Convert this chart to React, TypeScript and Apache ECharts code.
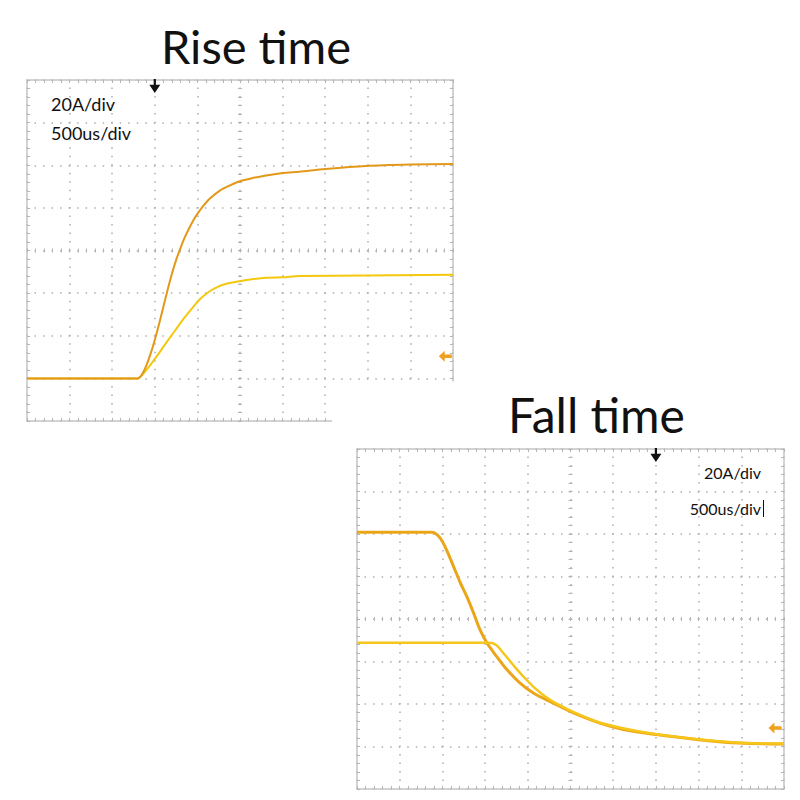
import React, { useEffect, useRef } from "react";
import * as echarts from "echarts";

// ---- scope settings (time in µs relative to trigger, current in A) ----
const X_STEP = 500; // 500us/div
const Y_STEP = 20; // 20A/div
const RISE_X_MIN = -1500;
const RISE_X_MAX = 3500;
const FALL_X_MIN = -3500;
const FALL_X_MAX = 1500;
const Y_MIN = -20;
const Y_MAX = 140;

const titles = ["Rise time", "Fall time"];
const scaleLabels = ["20A/div", "500us/div"];

// ---- Rise time traces ----
const riseOrangeT = [-1500, -200, -170, -140, -100, -50, 0, 50, 100, 150, 200, 250, 300, 350, 400, 450, 500, 560, 650, 760, 880, 990, 1150, 1305, 1500, 1695, 2000, 2475, 3000, 3500];
const riseOrangeI = [0, 0, 0.8, 2.5, 6, 11.5, 18, 25.5, 33.5, 41.5, 49, 55.5, 61, 66, 70.2, 74, 77.2, 80.5, 84.5, 88, 90.5, 92.4, 94, 95.2, 96.4, 97, 98.2, 99.6, 100.3, 100.6];
const riseYellowT = [-1500, -200, -150, -62, 35, 135, 230, 330, 430, 525, 620, 720, 850, 990, 1305, 1500, 1695, 3500];
const riseYellowI = [0, 0, 1.5, 5.8, 11, 16.8, 22, 27.6, 32.5, 37, 40.2, 42.6, 44.5, 45.6, 47.2, 47.4, 48, 48.6];

// ---- Fall time traces ----
const fallOrangeT = [-3500, -2620, -2560, -2500, -2440, -2370, -2290, -2215, -2135, -2060, -1980, -1865, -1745, -1590, -1435, -1200, -965, -655, -380, 5, 500, 980, 1500];
const fallOrangeI = [100.8, 100.8, 99.6, 96.5, 91.5, 84.8, 77, 70.6, 62.8, 55, 48.8, 42.4, 36.2, 29.8, 25.2, 20.4, 15.8, 11, 8, 5.6, 3.2, 1.6, 1.2];
const fallYellowT = [-3500, -1950, -1870, -1800, -1720, -1630, -1530, -1420, -1300, -1200, -965, -655, 5, 980, 1500];
const fallYellowI = [48.8, 48.8, 47.8, 44.6, 40.8, 36.4, 32, 27.6, 23.6, 21, 16.2, 11.2, 5.8, 1.8, 1.4];

// ---- markers (trigger at t=0 on top edge, ground reference arrows) ----
const riseGround = [3410, 10.4];
const fallGround = [1395, 8.7];

const zip = (t: number[], v: number[]) => t.map((x, i) => [x, v[i]]);

const FRAME = "#c4c4c4";
const DOTS = "#adadad";
const TICKS = "#b5b5b5";

const TRIGGER_SYMBOL = "path://M4,0 L6,0 L6,5 L10,5 L5,12 L0,5 L4,5 Z";
const GROUND_SYMBOL = "path://M0,4.5 L5,0 L5,3 L11,3 L11,6 L5,6 L5,9 Z";

type Rect = { left: number; top: number; width: number; height: number };

function makeAxes(gi: number, r: Rect, xmin: number, xmax: number) {
  const xBase = {
    type: "value" as const,
    gridIndex: gi,
    min: xmin,
    max: xmax,
    interval: X_STEP,
    axisLabel: { show: false },
  };
  const yBase = {
    type: "value" as const,
    gridIndex: gi,
    min: Y_MIN,
    max: Y_MAX,
    interval: Y_STEP,
    axisLabel: { show: false },
  };
  const frameLine = { show: true, onZero: false, lineStyle: { color: FRAME, width: 1.5 } };
  const frameTick = { show: true, inside: true, length: 3, lineStyle: { color: TICKS, width: 1 } };
  const frameMinor = { show: true, splitNumber: 5, length: 3, lineStyle: { color: TICKS, width: 1 } };
  const vPeriod = r.height / 40;
  const hPeriod = r.width / 50;
  const xAxes = [
    {
      ...xBase,
      position: "bottom",
      axisLine: frameLine,
      axisTick: frameTick,
      minorTick: frameMinor,
      splitLine: {
        show: true,
        lineStyle: { color: DOTS, width: 1.5, type: [1.5, vPeriod - 1.5], dashOffset: 0.75 },
      },
    },
    {
      ...xBase,
      position: "top",
      axisLine: frameLine,
      axisTick: frameTick,
      minorTick: frameMinor,
      splitLine: { show: false },
    },
    {
      ...xBase,
      position: "bottom",
      offset: -(r.height / 2 + 2),
      axisLine: { show: false, onZero: false },
      axisTick: { show: true, inside: false, length: 4, lineStyle: { color: TICKS, width: 1 } },
      minorTick: { show: true, splitNumber: 5, length: 4, lineStyle: { color: TICKS, width: 1 } },
      splitLine: { show: false },
    },
  ];
  const yAxes = [
    {
      ...yBase,
      position: "left",
      axisLine: frameLine,
      axisTick: frameTick,
      minorTick: frameMinor,
      splitLine: {
        show: true,
        lineStyle: { color: DOTS, width: 1.5, type: [1.5, hPeriod - 1.5], dashOffset: 0.75 },
      },
    },
    {
      ...yBase,
      position: "right",
      axisLine: frameLine,
      axisTick: frameTick,
      minorTick: frameMinor,
      splitLine: { show: false },
    },
    {
      ...yBase,
      position: "left",
      offset: -(r.width / 2 + 2),
      axisLine: { show: false, onZero: false },
      axisTick: { show: true, inside: false, length: 4, lineStyle: { color: TICKS, width: 1 } },
      minorTick: { show: true, splitNumber: 5, length: 4, lineStyle: { color: TICKS, width: 1 } },
      splitLine: { show: false },
    },
  ];
  return { xAxes, yAxes };
}

export default function App() {
  const ref = useRef<HTMLDivElement>(null);

  useEffect(() => {
    if (!ref.current) return;
    const chart = echarts.init(ref.current, null, { renderer: "svg" });

    const riseRect: Rect = { left: 27, top: 80, width: 426, height: 341 };
    const fallRect: Rect = { left: 357, top: 449, width: 427, height: 340 };

    const ra = makeAxes(0, riseRect, RISE_X_MIN, RISE_X_MAX);
    const fa = makeAxes(1, fallRect, FALL_X_MIN, FALL_X_MAX);

    const markers = (ground: number[], groundColor: string) => ({
      silent: true,
      label: { show: false },
      data: [
        {
          coord: [0, Y_MAX],
          symbol: TRIGGER_SYMBOL,
          symbolSize: [11, 14],
          symbolOffset: [0, 6],
          itemStyle: { color: "#111" },
        },
        {
          coord: ground,
          symbol: GROUND_SYMBOL,
          symbolSize: [13, 11],
          itemStyle: { color: groundColor },
        },
      ],
    });

    const option: any = {
      animation: false,
      backgroundColor: "#ffffff",
      grid: [
        { ...riseRect, containLabel: false },
        { ...fallRect, containLabel: false },
      ],
      xAxis: [...ra.xAxes, ...fa.xAxes],
      yAxis: [...ra.yAxes, ...fa.yAxes],
      series: [
        {
          name: "Rise yellow",
          type: "line",
          xAxisIndex: 0,
          yAxisIndex: 0,
          data: zip(riseYellowT, riseYellowI),
          symbol: "none",
          smooth: 0.3,
          lineStyle: { color: "#F4C80E", width: 2 },
          itemStyle: { color: "#F4C80E" },
          z: 3,
        },
        {
          name: "Rise orange",
          type: "line",
          xAxisIndex: 0,
          yAxisIndex: 0,
          data: zip(riseOrangeT, riseOrangeI),
          symbol: "none",
          smooth: 0.3,
          lineStyle: { color: "#E3981A", width: 2 },
          itemStyle: { color: "#E3981A" },
          z: 4,
          markPoint: markers(riseGround, "#F0A020"),
        },
        {
          name: "Fall orange",
          type: "line",
          xAxisIndex: 3,
          yAxisIndex: 3,
          data: zip(fallOrangeT, fallOrangeI),
          symbol: "none",
          smooth: 0.3,
          lineStyle: { color: "#EBA518", width: 3 },
          itemStyle: { color: "#EBA518" },
          z: 3,
          markPoint: markers(fallGround, "#F0A020"),
        },
        {
          name: "Fall yellow",
          type: "line",
          xAxisIndex: 3,
          yAxisIndex: 3,
          data: zip(fallYellowT, fallYellowI),
          symbol: "none",
          smooth: 0.3,
          lineStyle: { color: "#F6C61A", width: 2.5 },
          itemStyle: { color: "#F6C61A" },
          z: 4,
        },
      ],
      graphic: [
        {
          type: "rect",
          shape: { x: 332, y: 381.5, width: 130, height: 45 },
          style: { fill: "#ffffff" },
          z: 100,
        },
        {
          type: "text",
          x: 161,
          y: 46,
          style: { text: titles[0], fontSize: 47, fontFamily: "Lato", fill: "#111", align: "left", verticalAlign: "middle" },
          z: 101,
        },
        {
          type: "text",
          x: 508,
          y: 414,
          style: { text: titles[1], fontSize: 48, fontFamily: "Lato", fill: "#111", align: "left", verticalAlign: "middle" },
          z: 101,
        },
        {
          type: "text",
          x: 51,
          y: 104,
          style: { text: scaleLabels[0], fontSize: 18, fontFamily: "Lato", fill: "#111", align: "left", verticalAlign: "middle" },
          z: 101,
        },
        {
          type: "text",
          x: 51,
          y: 133,
          style: { text: scaleLabels[1], fontSize: 18, fontFamily: "Lato", fill: "#111", align: "left", verticalAlign: "middle" },
          z: 101,
        },
        {
          type: "text",
          x: 761,
          y: 472,
          style: { text: scaleLabels[0], fontSize: 16, fontFamily: "Lato", fill: "#111", align: "right", verticalAlign: "middle" },
          z: 101,
        },
        {
          type: "text",
          x: 761,
          y: 508,
          style: { text: scaleLabels[1], fontSize: 16, fontFamily: "Lato", fill: "#111", align: "right", verticalAlign: "middle" },
          z: 101,
        },
        {
          type: "line",
          shape: { x1: 763.5, y1: 500, x2: 763.5, y2: 517 },
          style: { stroke: "#111", lineWidth: 1 },
          z: 101,
        },
      ],
    };

    chart.setOption(option);
    return () => chart.dispose();
  }, []);

  return (
    <div
      ref={ref}
      style={{ position: "fixed", left: 0, top: 0, width: 800, height: 800, background: "#fff" }}
    />
  );
}
